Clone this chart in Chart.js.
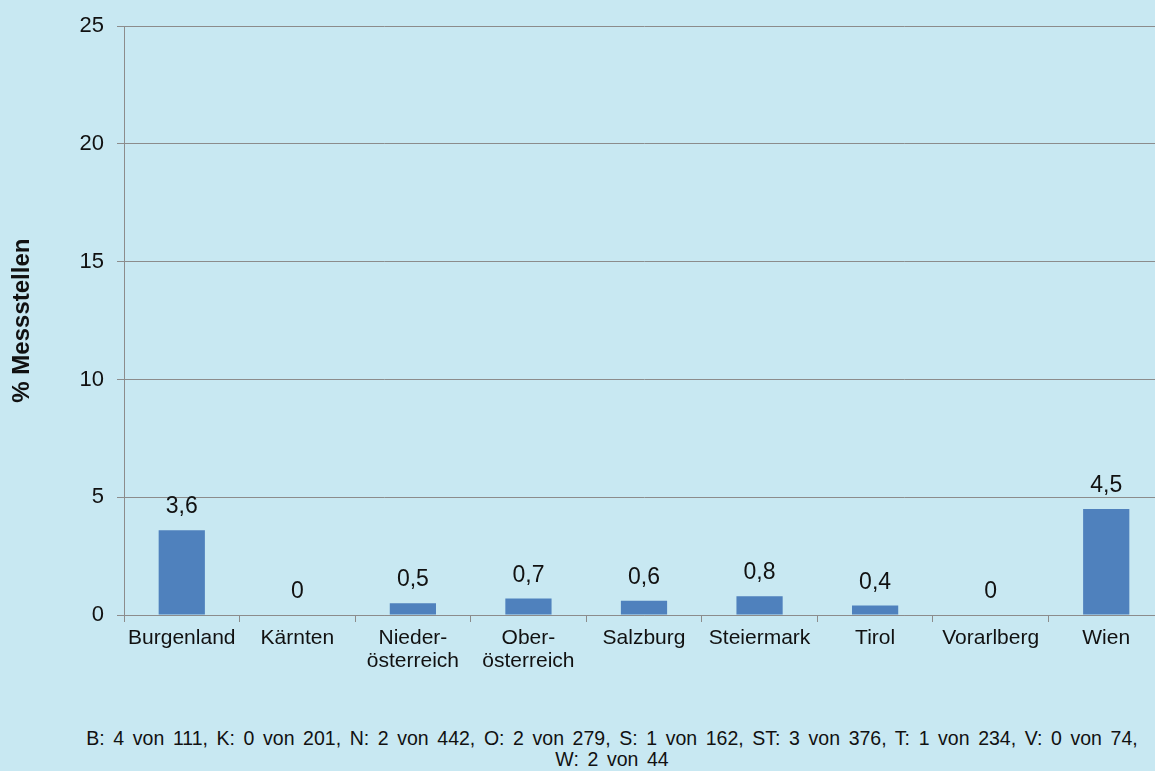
<!DOCTYPE html>
<html>
<head>
<meta charset="utf-8">
<script src="https://cdn.jsdelivr.net/npm/chart.js@4/dist/chart.umd.min.js"></script>
<style>
  html, body { margin: 0; padding: 0; background: #c8e8f2; width: 1155px; height: 771px; overflow: hidden; }
  #wrap { position: absolute; left: 0; top: 0; width: 1155px; height: 771px; overflow: hidden; }
  #c { position: absolute; left: 0; top: 0; }
  #foot { position: absolute; left: 612px; top: 728px; transform: translateX(-50%); white-space: nowrap;
          font-family: "Liberation Sans", Arial, sans-serif; font-size: 19.5px; word-spacing: 3.2px; line-height: 21px; color: #111; text-align: center; }
</style>
</head>
<body>
<div id="wrap">
  <canvas id="c" width="1164" height="700" style="width:1164px;height:700px"></canvas>
  <div id="foot"></div>
</div>
<script>
const categories = ["Burgenland", "Kärnten", ["Nieder-", "österreich"], ["Ober-", "österreich"], "Salzburg", "Steiermark", "Tirol", "Vorarlberg", "Wien"];
const values = [3.6, 0, 0.5, 0.7, 0.6, 0.8, 0.4, 0, 4.5];
const yTicks = [0, 5, 10, 15, 20, 25];
const yTitle = "% Messstellen";
const footLines = ["B: 4 von 111, K: 0 von 201, N: 2 von 442, O: 2 von 279, S: 1 von 162, ST: 3 von 376, T: 1 von 234, V: 0 von 74,", "W: 2 von 44"];

document.getElementById('foot').innerHTML = footLines.join('<br>');

const FONT = '"Liberation Sans", Arial, sans-serif';
const GRID = '#8c8c8c';

const labelPlugin = {
  id: 'valueLabels',
  afterDatasetsDraw(chart) {
    const ctx = chart.ctx;
    const meta = chart.getDatasetMeta(0);
    ctx.save();
    ctx.font = '23px ' + FONT;
    ctx.fillStyle = '#111';
    ctx.textAlign = 'center';
    ctx.textBaseline = 'alphabetic';
    meta.data.forEach((bar, i) => {
      const txt = String(values[i]).replace('.', ',');
      ctx.fillText(txt, bar.x, bar.y - 17);
    });
    ctx.restore();
  }
};

new Chart(document.getElementById('c'), {
  type: 'bar',
  data: {
    labels: categories,
    datasets: [{
      data: values,
      backgroundColor: '#4f81bd',
      borderWidth: 0,
      categoryPercentage: 1.0,
      barPercentage: 0.4
    }]
  },
  options: {
    responsive: false,
    animation: false,
    devicePixelRatio: 1,
    layout: { padding: { top: 25, left: 0, right: 0, bottom: 0 } },
    plugins: { legend: { display: false }, tooltip: { enabled: false }, title: { display: false } },
    scales: {
      x: {
        offset: true,
        grid: { display: true, drawOnChartArea: false, drawTicks: true, tickLength: 7, color: GRID, offset: true },
        border: { display: true, color: GRID },
        ticks: { color: '#111', font: { family: FONT, size: 21, lineHeight: 1.12 }, padding: 4, maxRotation: 0, autoSkip: false },
        afterFit(scale) { scale.height = 85; }
      },
      y: {
        min: 0, max: 25,
        afterBuildTicks(scale) { scale.ticks = yTicks.map(v => ({ value: v })); },
        grid: { color: GRID, tickLength: 7, drawTicks: true },
        border: { display: true, color: GRID },
        ticks: { color: '#111', font: { family: FONT, size: 22 }, padding: 13 },
        title: { display: true, text: yTitle, color: '#111', font: { family: FONT, size: 24, weight: 'bold', lineHeight: 1.2 }, padding: { top: 8, bottom: 0 } },
        afterFit(scale) { scale.width = 124; }
      }
    }
  },
  plugins: [labelPlugin]
});
</script>
</body>
</html>
